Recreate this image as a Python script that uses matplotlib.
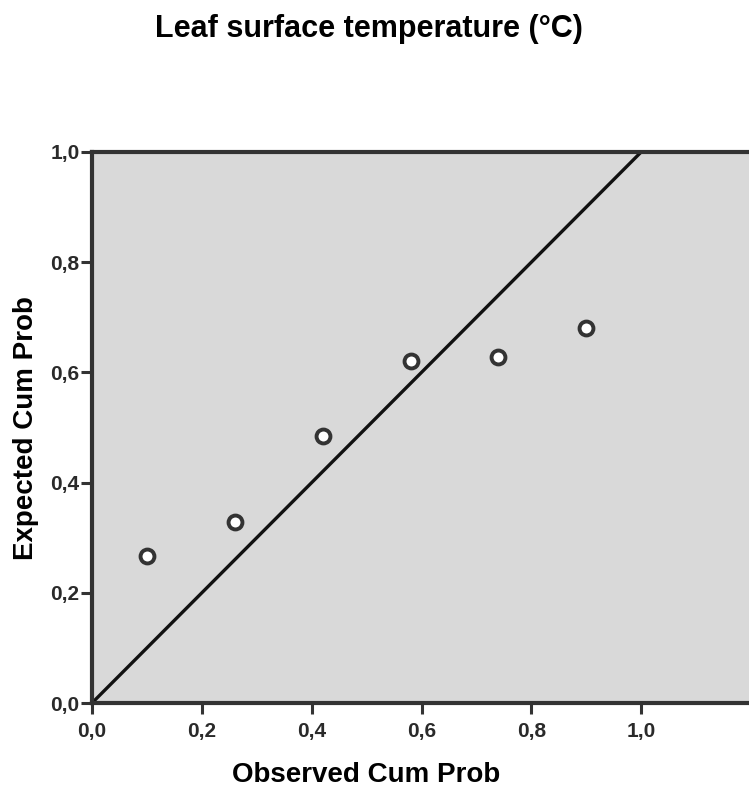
import matplotlib.pyplot as plt
import matplotlib.ticker as mticker

plt.rcParams['font.family'] = ['Liberation Sans', 'DejaVu Sans']

observed = [0.10, 0.26, 0.42, 0.58, 0.74, 0.90]
expected = [0.267, 0.329, 0.485, 0.621, 0.628, 0.681]
ticks = [0.0, 0.2, 0.4, 0.6, 0.8, 1.0]

W, H = 749, 791
fig = plt.figure(figsize=(W / 100, H / 100), dpi=100)
ax = fig.add_axes([92 / W, 88 / H, 659 / W, 551 / H])
ax.set_facecolor('#d9d9d9')

ax.plot([0, 1.2], [0, 1.2], color='#111111', lw=2.4, zorder=2)
ax.scatter(observed, expected, s=100, facecolor='white', edgecolor='#333333',
           linewidth=2.8, zorder=3)

ax.set_xlim(0, 1.2)
ax.set_ylim(0, 1.0)
ax.set_xticks(ticks)
ax.set_yticks(ticks)
fmt = mticker.FuncFormatter(lambda v, p: f"{v:.1f}".replace('.', ','))
ax.xaxis.set_major_formatter(fmt)
ax.yaxis.set_major_formatter(fmt)
ax.tick_params(direction='out', length=8, width=2.2, color='#333333',
               labelsize=15, labelcolor='#2a2a2a')
ax.tick_params(axis='x', pad=5.5)
ax.tick_params(axis='y', pad=1)
for lab in ax.get_xticklabels() + ax.get_yticklabels():
    lab.set_fontweight('bold')

for side in ['left', 'bottom', 'top']:
    ax.spines[side].set_linewidth(3)
    ax.spines[side].set_color('#333333')
ax.spines['right'].set_visible(False)

fig.text(366 / W, 1 - 775 / H, "Observed Cum Prob", fontsize=20,
         fontweight='bold', ha='center', va='center')
fig.text(26 / W, 1 - 428 / H, "Expected Cum Prob", fontsize=20,
         fontweight='bold', ha='center', va='center', rotation=90)
fig.text(369 / W, 1 - 29 / H, "Leaf surface temperature (°C)", fontsize=22,
         fontweight='bold', ha='center', va='center')

fig.savefig("out.png", dpi=100)
